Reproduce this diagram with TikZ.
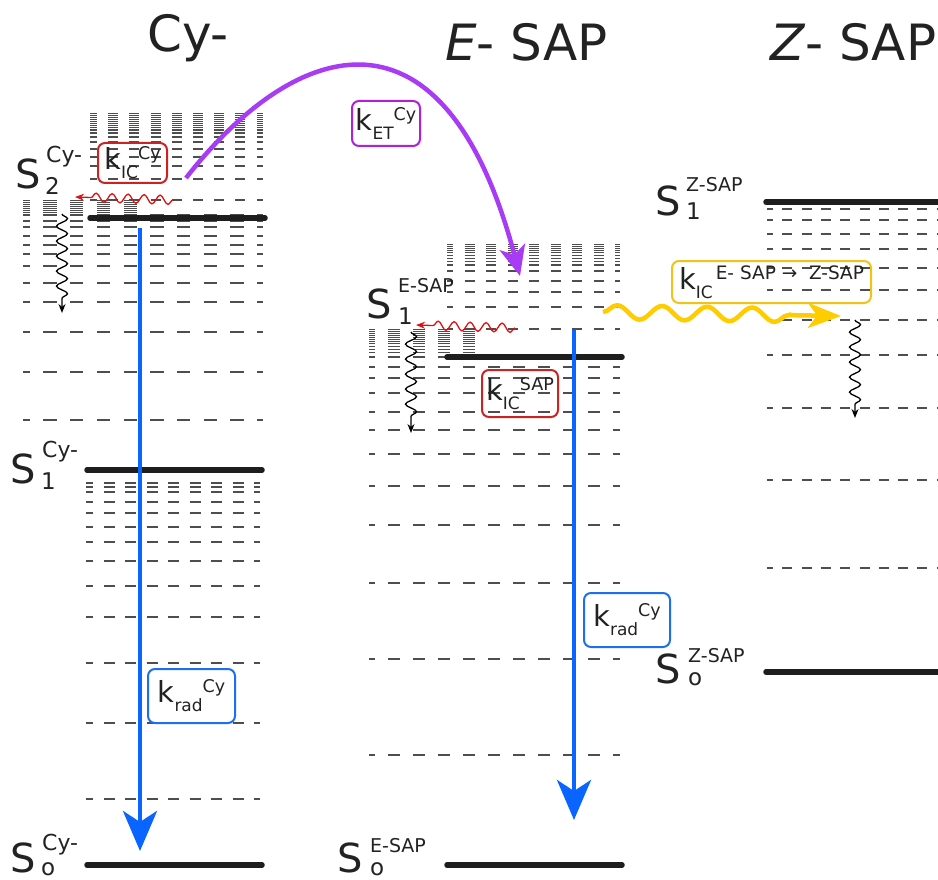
\documentclass[tikz,border=0pt]{standalone}
\usepackage{fontspec}
\setmainfont{DejaVu Sans}
\usetikzlibrary{arrows.meta,decorations.pathmorphing}
\definecolor{lvlink}{HTML}{1E1E1E}
\definecolor{vibgray}{HTML}{4E4E4E}
\definecolor{txtc}{HTML}{222222}
\definecolor{radblue}{HTML}{0A64FF}
\definecolor{boxblue}{HTML}{1E6EF0}
\definecolor{etpurple}{HTML}{A83CF5}
\definecolor{etbox}{HTML}{B020D8}
\definecolor{icred}{HTML}{DD1111}
\definecolor{icbox}{HTML}{CC2222}
\definecolor{izyellow}{HTML}{FFCC00}
\definecolor{izbox}{HTML}{F2C21A}
\newcommand{\kk}[2]{{\fontsize{29}{29}\selectfont k}\raisebox{-9pt}{\fontsize{17}{17}\selectfont #1}\raisebox{10pt}{\fontsize{17.5}{17.5}\selectfont #2}}
\begin{document}
\begin{tikzpicture}[x=1pt,y=-1pt,
  level/.style={line width=5.5pt, line cap=round, draw=lvlink},
  vib/.style={line width=1.3pt, draw=vibgray},
  thin/.style={line width=0.9pt},
  vibCyS/.style={vib, dash pattern=on 10pt off 11.2pt, dash phase=3pt},
  vibCyA/.style={vib, dash pattern=on 13.3pt off 13.4pt, dash phase=6.3pt},
  vibCyB/.style={vib, dash pattern=on 11pt off 10.5pt, dash phase=4pt},
  vibEA/.style={vib, dash pattern=on 10pt off 11.5pt, dash phase=4pt},
  vibEB/.style={vib, dash pattern=on 12pt off 13pt, dash phase=6pt},
  vibZ/.style={vib, dash pattern=on 10pt off 9.3pt, dash phase=4pt},
  title/.style={font=\fontsize{50}{50}\selectfont, text=txtc, inner sep=0pt, anchor=base west},
  bigS/.style={font=\fontsize{40}{40}\selectfont, text=txtc, inner sep=0pt, anchor=base west},
  lsub/.style={font=\fontsize{23}{23}\selectfont, text=txtc, inner sep=0pt, anchor=base west},
  lsupc/.style={font=\fontsize{22}{22}\selectfont, text=txtc, inner sep=0pt, anchor=base west},
  lsups/.style={font=\fontsize{19}{19}\selectfont, text=txtc, inner sep=0pt, anchor=base west},
  kbox/.style={draw=#1, line width=2pt, rounded corners=7pt, inner sep=0pt, text=txtc},
  radarrow/.style={draw=radblue, line width=4.5pt, -{Stealth[length=40pt,width=34pt,inset=11pt]}},
  etarrow/.style={draw=etpurple, line width=4.5pt, -{Stealth[length=30pt,width=26pt,inset=8pt]}},
  icwave/.style={draw=icred, line width=1.3pt, decorate,
    decoration={snake, amplitude=4.5pt, segment length=16pt, post length=10pt},
    -{Stealth[length=9pt,width=7pt]}},
  vrwave/.style={draw=black, line width=1.3pt, decorate,
    decoration={snake, amplitude=5.5pt, segment length=15pt, post length=10pt},
    -{Stealth[length=9pt,width=7pt]}},
  izwave/.style={draw=izyellow, line width=4.5pt, decorate,
    decoration={snake, amplitude=7pt, segment length=45pt, post length=40pt},
    -{Stealth[length=33pt,width=25pt,inset=9pt]}}
]
\useasboundingbox (0,0) rectangle (938,880);

% ---------- vibrational manifolds ----------
% Cy- : S2 manifold
\foreach \yy in {113,115,117,119,121,123,125,127}
  \draw[vibCyS, thin] (90,\yy) -- (263,\yy);
\foreach \yy in {130,133,137,142,149,157,166,179,200}
  \draw[vibCyS] (90,\yy) -- (263,\yy);
% Cy- : S1 manifold
\foreach \yy in {200,202,204,206,208,210,212}
  \draw[vibCyA, thin] (23,\yy) -- (137,\yy);
\foreach \yy in {215,221,227,236,245,254,266,283,302,332,372,420}
  \draw[vibCyA] (23,\yy) -- (263,\yy);
% Cy- : S0 manifold
\foreach \yy in {483,487,492,502,513,527,542,561,586,617,663,723,799}
  \draw[vibCyB] (86,\yy) -- (260,\yy);
% E-SAP : S1 manifold
\foreach \yy in {244,246,248,250,252,255,258,261}
  \draw[vibEA, thin] (447,\yy) -- (620,\yy);
\foreach \yy in {265,271,281,292,307,329}
  \draw[vibEA] (447,\yy) -- (620,\yy);
% E-SAP : S0 manifold
\foreach \yy in {329,331,333,335,337,339,341,343,346,349,352}
  \draw[vibEB, thin] (369,\yy) -- (477,\yy);
\foreach \yy in {357,367,378,393,412,430,454,486,525,583,659,755}
  \draw[vibEB] (369,\yy) -- (620,\yy);
% Z-SAP : S0 manifold
\foreach \yy in {209,220,234,249,268,290,320,355,408,480,568}
  \draw[vibZ] (767,\yy) -- (938,\yy);

% ---------- electronic levels ----------
\draw[level] (90,218) -- (265,218);
\draw[level] (87,470) -- (262,470);
\draw[level] (87,865) -- (262,865);
\draw[level] (447,357) -- (622,357);
\draw[level] (447,865) -- (622,865);
\draw[level] (766,202) -- (945,202);
\draw[level] (766,672) -- (945,672);

% ---------- titles ----------
\node[title] (tCy) at (147,52) {Cy-};
\node[title] (tE) at (445,61) {\textit{E}- SAP};
\node[title] (tZ) at (770,61) {\textit{Z}- SAP};

% ---------- level labels ----------
\node[bigS] (sCy2) at (15,189) {S};
\node[lsub] (sCy2b) at (45,195) {2};
\node[lsupc] (sCy2t) at (46,163) {Cy-};
\node[bigS] (sCy1) at (10,483) {S};
\node[lsub] (sCy1b) at (41,489) {1};
\node[lsupc] (sCy1t) at (42,457) {Cy-};
\node[bigS] (sCy0) at (10,872) {S};
\node[lsub] (sCy0b) at (41,875) {o};
\node[lsupc] (sCy0t) at (42,850) {Cy-};
\node[bigS] (sE1) at (366,318) {S};
\node[lsub] (sE1b) at (398,324) {1};
\node[lsups] (sE1t) at (398,292) {E-SAP};
\node[bigS] (sE0) at (337,872) {S};
\node[lsub] (sE0b) at (370,875) {o};
\node[lsups] (sE0t) at (370,852) {E-SAP};
\node[bigS] (sZ1) at (655,215) {S};
\node[lsub] (sZ1b) at (686,220) {1};
\node[lsups] (sZ1t) at (686,192) {Z-SAP};
\node[bigS] (sZ0) at (655,683) {S};
\node[lsub] (sZ0b) at (688,685) {o};
\node[lsups] (sZ0t) at (688,662) {Z-SAP};

% ---------- process end points ----------
\coordinate (radCyA) at (140,228);
\coordinate (radCyB) at (140,851);
\coordinate (radEA) at (574,330);
\coordinate (radEB) at (574,820);
\coordinate (etA) at (186,178);
\coordinate (etB) at (520,276);
\coordinate (icCyA) at (173,200);
\coordinate (icCyB) at (75,197);
\coordinate (icEA) at (515,328);
\coordinate (icEB) at (416,325);
\coordinate (vrCyA) at (62,214);
\coordinate (vrCyB) at (62,313);
\coordinate (vrEA) at (411,332);
\coordinate (vrEB) at (411,433);
\coordinate (vrZA) at (855,320);
\coordinate (vrZB) at (855,418);
\coordinate (izA) at (603,312);
\coordinate (izB) at (841,316);

% ---------- processes ----------
\draw[radarrow] (radCyA) -- (radCyB);
\draw[radarrow] (radEA) -- (radEB);
\draw[etarrow] (etA) .. controls (297,36) and (445,-8) .. (etB);
\draw[icwave] (icCyA) -- (icCyB);
\draw[icwave] (icEA) -- (icEB);
\draw[vrwave] (vrCyA) -- (vrCyB);
\draw[vrwave] (vrEA) -- (vrEB);
\draw[vrwave] (vrZA) -- (vrZB);
\draw[izwave] (izA) -- (izB);

% ---------- rate boxes ----------
\node[kbox=icbox, minimum width=69pt, minimum height=40pt] (kicCy) at (132.5,163) {\kk{IC}{Cy}};
\node[kbox=etbox, minimum width=68pt, minimum height=45pt] (ketCy) at (386,123.5) {\kk{ET}{Cy}};
\node[kbox=icbox, minimum width=76pt, minimum height=47pt] (kicSAP) at (520,393.5) {\kk{IC}{SAP}};
\node[kbox=boxblue, minimum width=87pt, minimum height=54pt] (kradCy) at (191.5,696) {\kk{rad}{Cy}};
\node[kbox=boxblue, minimum width=86pt, minimum height=54pt] (kradE) at (627,620) {\kk{rad}{Cy}};
\node[kbox=izbox, minimum width=199pt, minimum height=42pt] (kicEZ) at (771.5,282)
  {{\fontsize{29}{29}\selectfont k}\raisebox{-9pt}{\fontsize{17}{17}\selectfont IC}\raisebox{10pt}{\fontsize{18.5}{18.5}\selectfont \,E- SAP →\ \ Z-SAP}};
\end{tikzpicture}
\end{document}
